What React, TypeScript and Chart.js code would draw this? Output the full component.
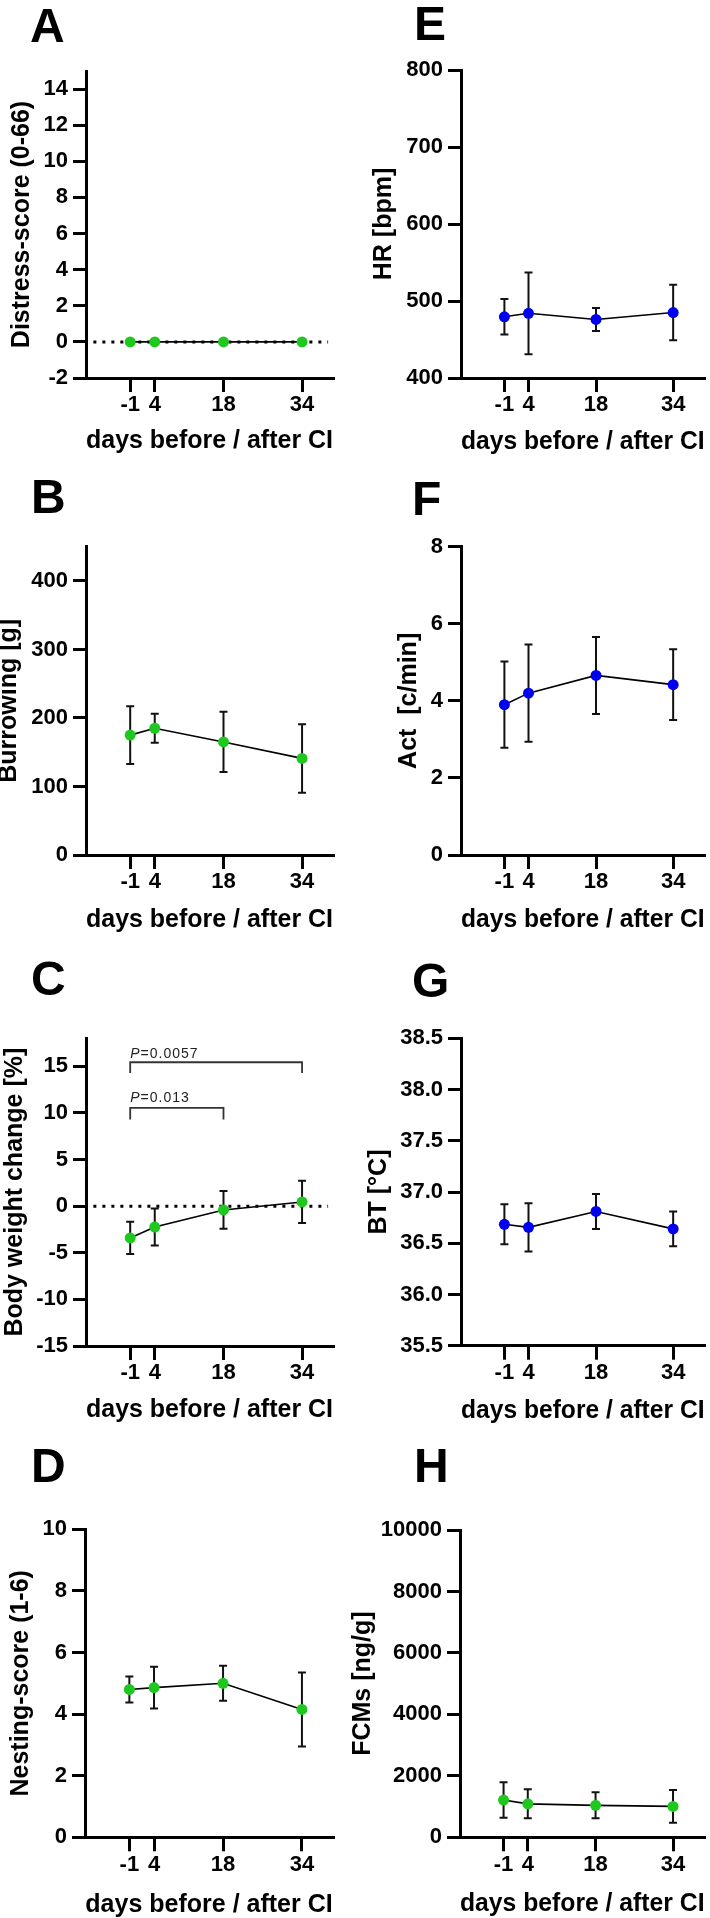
import React, { useEffect, useRef } from "react";
import { Chart, registerables } from "chart.js";

Chart.register(...registerables);

// ---------- data ----------
const days = [-1, 4, 18, 34];
const xTickLabels = ["-1", "4", "18", "34"];
const xAxisTitle = "days before / after CI";

const distressMean = [0, 0, 0, 0];
const distressErr = [0, 0, 0, 0];
const burrowingMean = [175, 185, 165, 141];
const burrowingErr = [42, 21, 44, 50];
const weightMean = [-3.41, -2.24, -0.41, 0.45];
const weightErr = [1.73, 1.98, 2.02, 2.27];
const nestingMean = [4.8, 4.86, 5.0, 4.15];
const nestingErr = [0.42, 0.68, 0.57, 1.2];
const hrMean = [479.5, 484, 476, 485];
const hrErr = [23, 53, 15, 36];
const actMean = [3.9, 4.2, 4.66, 4.42];
const actErr = [1.12, 1.26, 1.0, 0.92];
const btMean = [36.685, 36.655, 36.81, 36.64];
const btErr = [0.195, 0.235, 0.17, 0.17];
const fcmMean = [1213, 1089, 1040, 1006];
const fcmErr = [575, 472, 423, 532];

const distressTicks = [-2, 0, 2, 4, 6, 8, 10, 12, 14];
const burrowingTicks = [0, 100, 200, 300, 400];
const weightTicks = [-15, -10, -5, 0, 5, 10, 15];
const nestingTicks = [0, 2, 4, 6, 8, 10];
const hrTicks = [400, 500, 600, 700, 800];
const actTicks = [0, 2, 4, 6, 8];
const btTicks = [35.5, 36.0, 36.5, 37.0, 37.5, 38.0, 38.5];
const fcmTicks = [0, 2000, 4000, 6000, 8000, 10000];

const zeroLineX = [-8.5, 39.3];

// significance brackets (panel C)
const pLabels = ["0.0057", "0.013"];
const bracketFrom = [-1, -1];
const bracketTo = [34, 18];
const bracketLevel = [15.43, 10.54];
const bracketFoot = [14.29, 9.29];
const bracketTextLevel = [15.9, 11.18];

const GREEN = "#1ec81e";
const BLUE = "#0000f0";
const FONT = '"Liberation Sans", Arial, Helvetica, sans-serif';

type Panel = {
  letter: string;
  title: string;
  mean: number[];
  err: number[];
  color: string;
  yMin: number;
  yMax: number;
  yTicks: number[];
  decimals: number;
  zeroLine: boolean;
  brackets: boolean;
  col: number;
  row: number;
  chartLeft: number;
  chartTop: number;
  chartBottom: number;
  yTitleX: number;
  xTitlePad: number;
  letterX: number;
  letterY: number;
};

const panels: Panel[] = [
  { letter: "A", title: "Distress-score (0-66)", mean: distressMean, err: distressErr, color: GREEN, yMin: -2, yMax: 15, yTicks: distressTicks, decimals: 0, zeroLine: true, brackets: false, col: 0, row: 0, chartLeft: 86, chartTop: 71, chartBottom: 378, yTitleX: 22, xTitlePad: 4.5, letterX: 30, letterY: 42 },
  { letter: "B", title: "Burrowing [g]", mean: burrowingMean, err: burrowingErr, color: GREEN, yMin: 0, yMax: 450, yTicks: burrowingTicks, decimals: 0, zeroLine: false, brackets: false, col: 0, row: 1, chartLeft: 86, chartTop: 546.7, chartBottom: 855, yTitleX: 9.5, xTitlePad: 2.8, letterX: 31, letterY: 513 },
  { letter: "C", title: "Body weight change [%]", mean: weightMean, err: weightErr, color: GREEN, yMin: -15, yMax: 18, yTicks: weightTicks, decimals: 0, zeroLine: true, brackets: true, col: 0, row: 2, chartLeft: 86, chartTop: 1038.3, chartBottom: 1346, yTitleX: 15.5, xTitlePad: 3, letterX: 31, letterY: 995 },
  { letter: "D", title: "Nesting-score (1-6)", mean: nestingMean, err: nestingErr, color: GREEN, yMin: 0, yMax: 10, yTicks: nestingTicks, decimals: 0, zeroLine: false, brackets: false, col: 0, row: 3, chartLeft: 85, chartTop: 1529.3, chartBottom: 1837.3, yTitleX: 21, xTitlePad: 0.1, letterX: 31, letterY: 1482 },
  { letter: "E", title: "HR [bpm]", mean: hrMean, err: hrErr, color: BLUE, yMin: 400, yMax: 800, yTicks: hrTicks, decimals: 0, zeroLine: false, brackets: false, col: 1, row: 0, chartLeft: 461, chartTop: 70, chartBottom: 378, yTitleX: 384, xTitlePad: 3.5, letterX: 414, letterY: 40 },
  { letter: "F", title: "Act  [c/min]", mean: actMean, err: actErr, color: BLUE, yMin: 0, yMax: 8, yTicks: actTicks, decimals: 0, zeroLine: false, brackets: false, col: 1, row: 1, chartLeft: 461, chartTop: 546.7, chartBottom: 855, yTitleX: 409.5, xTitlePad: 2, letterX: 412, letterY: 515 },
  { letter: "G", title: "BT [°C]", mean: btMean, err: btErr, color: BLUE, yMin: 35.5, yMax: 38.5, yTicks: btTicks, decimals: 1, zeroLine: false, brackets: false, col: 1, row: 2, chartLeft: 461, chartTop: 1038.3, chartBottom: 1345.7, yTitleX: 379.5, xTitlePad: 1.7, letterX: 412, letterY: 997 },
  { letter: "H", title: "FCMs [ng/g]", mean: fcmMean, err: fcmErr, color: GREEN, yMin: 0, yMax: 10000, yTicks: fcmTicks, decimals: 0, zeroLine: false, brackets: false, col: 1, row: 3, chartLeft: 460, chartTop: 1530, chartBottom: 1837.3, yTitleX: 363, xTitlePad: 0.8, letterX: 414, letterY: 1482 },
];

function PanelChart({ p }: { p: Panel }) {
  const ref = useRef<HTMLCanvasElement>(null);
  const canvasLeft = p.col === 0 ? 0 : 330;
  const canvasTop = p.row * 480;
  const W = p.col === 0 ? 355 : 380;
  const H = p.row === 3 ? 478 : 480;
  const chartRight = p.col === 0 ? 333 : 709;
  const xMax = p.col === 0 ? 40.3 : 40.5;
  const xScaleH = 80;

  useEffect(() => {
    const canvas = ref.current;
    if (!canvas) return;

    const datasets: any[] = [
      {
        data: days.map((d, i) => ({ x: d, y: p.mean[i] })),
        borderColor: "#000",
        borderWidth: 1.6,
        pointRadius: 5.5,
        pointBackgroundColor: p.color,
        pointBorderColor: p.color,
        pointBorderWidth: 0,
        showLine: true,
        tension: 0,
      },
    ];
    if (p.zeroLine) {
      datasets.push({
        data: zeroLineX.map((x) => ({ x, y: 0 })),
        borderColor: "#000",
        borderWidth: 3,
        borderDash: [3, 6],
        pointRadius: 0,
        showLine: true,
      });
    }

    const extras = {
      id: "panelExtras",
      beforeDatasetsDraw(chart: any) {
        const ctx = chart.ctx;
        const xs = chart.scales.x;
        const ys = chart.scales.y;
        ctx.save();
        ctx.strokeStyle = "#111";
        ctx.lineWidth = 2;
        days.forEach((d, i) => {
          const e = p.err[i];
          if (!e) return;
          const x = xs.getPixelForValue(d);
          const y1 = ys.getPixelForValue(p.mean[i] + e);
          const y2 = ys.getPixelForValue(p.mean[i] - e);
          ctx.beginPath();
          ctx.moveTo(x, y1);
          ctx.lineTo(x, y2);
          ctx.moveTo(x - 4, y1);
          ctx.lineTo(x + 4, y1);
          ctx.moveTo(x - 4, y2);
          ctx.lineTo(x + 4, y2);
          ctx.stroke();
        });
        ctx.restore();
      },
      afterDraw(chart: any) {
        const ctx = chart.ctx;
        ctx.save();
        ctx.fillStyle = "#000";
        ctx.font = `bold 48px ${FONT}`;
        ctx.textBaseline = "alphabetic";
        ctx.textAlign = "left";
        ctx.fillText(p.letter, p.letterX - canvasLeft, p.letterY - canvasTop);
        if (p.brackets) {
          const xs = chart.scales.x;
          const ys = chart.scales.y;
          ctx.strokeStyle = "#333";
          ctx.lineWidth = 1.8;
          for (let i = 0; i < pLabels.length; i++) {
            const x1 = xs.getPixelForValue(bracketFrom[i]);
            const x2 = xs.getPixelForValue(bracketTo[i]);
            const yl = ys.getPixelForValue(bracketLevel[i]);
            const yf = ys.getPixelForValue(bracketFoot[i]);
            ctx.beginPath();
            ctx.moveTo(x1, yf);
            ctx.lineTo(x1, yl);
            ctx.lineTo(x2, yl);
            ctx.lineTo(x2, yf);
            ctx.stroke();
            const yt = ys.getPixelForValue(bracketTextLevel[i]);
            ctx.fillStyle = "#222";
            (ctx as any).letterSpacing = "1px";
            ctx.font = `italic 14px ${FONT}`;
            ctx.fillText("P", x1, yt);
            const w = ctx.measureText("P").width;
            ctx.font = `14px ${FONT}`;
            ctx.fillText("=" + pLabels[i], x1 + w, yt);
            (ctx as any).letterSpacing = "0px";
          }
        }
        ctx.restore();
      },
    };

    const chart = new Chart(canvas, {
      type: "line",
      data: { datasets },
      plugins: [extras],
      options: {
        animation: false,
        responsive: false,
        events: [],
        layout: {
          padding: {
            left: 0,
            right: W - (chartRight - canvasLeft),
            top: p.chartTop - canvasTop,
            bottom: H - (p.chartBottom - canvasTop) - xScaleH,
          },
        },
        plugins: {
          legend: { display: false },
          tooltip: { enabled: false },
        },
        scales: {
          x: {
            type: "linear",
            min: -10,
            max: xMax,
            afterBuildTicks: (s: any) => {
              s.ticks = days.map((v) => ({ value: v }));
            },
            afterFit: (s: any) => {
              s.height = xScaleH;
            },
            ticks: {
              autoSkip: false,
              maxRotation: 0,
              minRotation: 0,
              padding: 0,
              color: "#000",
              font: { family: FONT, size: 22, weight: "bold" },
              callback: (v: any) => {
                const idx = days.indexOf(Number(v));
                return idx >= 0 ? xTickLabels[idx] : "";
              },
            },
            grid: {
              drawOnChartArea: false,
              drawTicks: true,
              tickLength: 14,
              tickWidth: 3,
              tickColor: "#000",
              color: "#000",
              lineWidth: 3,
            },
            border: { display: true, color: "#000", width: 3 },
            title: {
              display: true,
              text: xAxisTitle,
              color: "#000",
              font: { family: FONT, size: 25, weight: "bold", lineHeight: 1 },
              padding: { top: 0, bottom: p.xTitlePad },
            },
          },
          y: {
            type: "linear",
            min: p.yMin,
            max: p.yMax,
            afterBuildTicks: (s: any) => {
              s.ticks = p.yTicks.map((v) => ({ value: v }));
            },
            afterFit: (s: any) => {
              s.width = p.chartLeft - canvasLeft;
            },
            ticks: {
              autoSkip: false,
              padding: 5,
              color: "#000",
              font: { family: FONT, size: 22, weight: "bold" },
              callback: (v: any) => Number(v).toFixed(p.decimals),
            },
            grid: {
              drawOnChartArea: false,
              drawTicks: true,
              tickLength: 13,
              tickWidth: 3,
              tickColor: "#000",
              color: "#000",
              lineWidth: 3,
            },
            border: { display: true, color: "#000", width: 3 },
            title: {
              display: true,
              text: p.title,
              color: "#000",
              font: { family: FONT, size: 25, weight: "bold", lineHeight: 1 },
              padding: { top: p.yTitleX - canvasLeft - 12.5, bottom: 0 },
            },
          },
        },
      } as any,
    });
    return () => chart.destroy();
  }, []);

  return (
    <canvas
      ref={ref}
      width={W}
      height={H}
      style={{ position: "absolute", left: canvasLeft, top: canvasTop, width: W, height: H }}
    />
  );
}

export default function App() {
  return (
    <div
      style={{
        position: "absolute",
        left: 0,
        top: 0,
        width: 710,
        height: 1918,
        background: "#fff",
        overflow: "hidden",
      }}
    >
      {panels.map((p) => (
        <PanelChart key={p.letter} p={p} />
      ))}
    </div>
  );
}
